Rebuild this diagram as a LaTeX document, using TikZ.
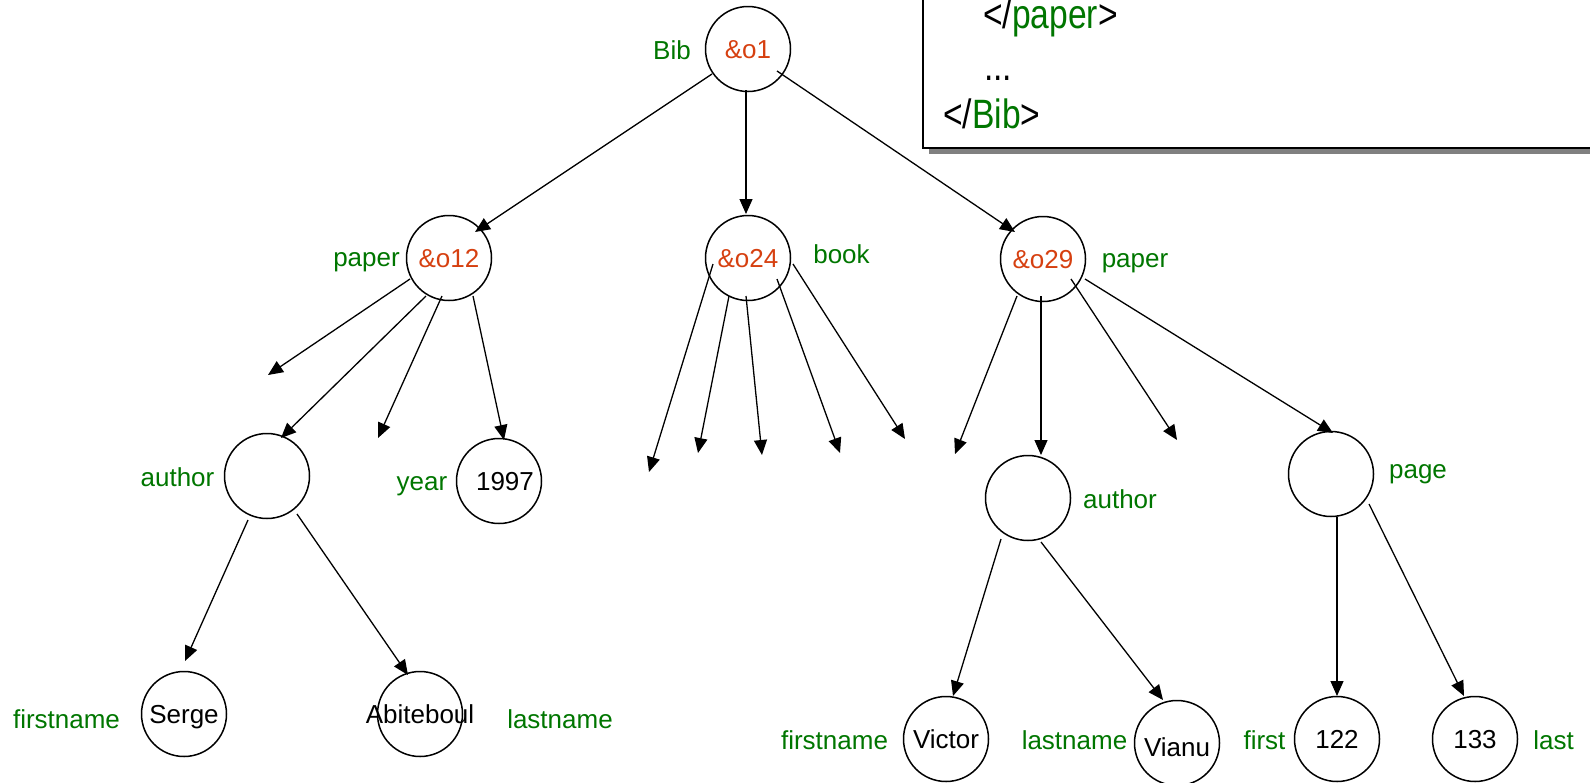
\documentclass[tikz,border=0pt]{standalone}
\usepackage{fontspec}
\setmainfont{Liberation Sans}
\newfontfamily\narrowfont[FakeStretch=0.82]{Liberation Sans}
\usetikzlibrary{arrows.meta,calc}
\definecolor{lblgreen}{RGB}{0,118,0}
\definecolor{oidred}{RGB}{214,64,16}
\definecolor{shadowgray}{RGB}{128,128,128}
\begin{document}
\begin{tikzpicture}[x=1pt,y=-1pt,
  every label/.style={inner sep=0pt,text height=19pt,text depth=0pt,font=\fontsize{26}{30}\selectfont},
  obj/.style={circle,draw=black,line width=1.5pt,minimum size=85pt,inner sep=0pt,
    text height=19pt,text depth=0pt,font=\fontsize{26}{30}\selectfont},
  oid/.style={obj,text=oidred},
  lbl/.style={inner sep=0pt,text height=19pt,text depth=0pt,text=lblgreen,
    font=\fontsize{26}{30}\selectfont},
  boxtext/.style={anchor=base west,inner sep=0pt,font=\narrowfont\fontsize{41}{48}\selectfont},
  edge/.style={line width=1.3pt,-{Triangle[length=15pt,width=13pt]}},
]
\useasboundingbox (0,0) rectangle (1590,782);
\clip (0,0) rectangle (1590,782);

% XML box (top right)
\fill[shadowgray] (929,-10) rectangle (1600,154);
\draw[fill=white,line width=2pt] (923,-10) rectangle (1600,148);
\node[boxtext] (tpaper) at (983,28) {</\textcolor{lblgreen}{paper}>};
\node[boxtext] (tdots) at (984,80) {...};
\node[boxtext] (tbib) at (943,128) {</\textcolor{lblgreen}{Bib}>};

% object nodes
\node[oid] (o1) at (748,49) {\&o1};
\node[oid] (o12) at (449,258) {\&o12};
\node[oid] (o24) at (748,258) {\&o24};
\node[oid] (o29) at (1043,259) {\&o29};
\node[obj] (a1) at (267,476) {};
\node[obj,label={[xshift=6pt]center:1997}] (y97) at (499,481) {};
\node[obj] (a2) at (1028,498) {};
\node[obj] (page) at (1331,474) {};
\node[obj] (serge) at (184,714) {Serge};
\node[obj,label={center:Abiteboul}] (abit) at (420,714) {};
\node[obj] (victor) at (946,739) {Victor};
\node[obj,label={[yshift=-4pt]center:Vianu}] (vianu) at (1177,743) {};
\node[obj] (n122) at (1337,739) {122};
\node[obj] (n133) at (1475,739) {133};

% labels
\node[lbl] (lbib) at (672,49.5) {Bib};
\node[lbl] (lpaper1) at (366.5,256.5) {paper};
\node[lbl] (lbook) at (841.5,253.5) {book};
\node[lbl] (lpaper2) at (1135,257.5) {paper};
\node[lbl] (lauthor1) at (177.5,477) {author};
\node[lbl] (lyear) at (422,481) {year};
\node[lbl] (lauthor2) at (1120,498.5) {author};
\node[lbl] (lpage) at (1418,468.5) {page};
\node[lbl] (lfirst1) at (66.5,718.5) {firstname};
\node[lbl] (llast1) at (560,718.5) {lastname};
\node[lbl] (lfirst2) at (834.5,740) {firstname};
\node[lbl] (llast2) at (1074.5,740) {lastname};
\node[lbl] (lfirst) at (1264.5,740) {first};
\node[lbl] (llast) at (1553.5,740) {last};

% free arrow ends
\coordinate (f1) at (268,375);
\coordinate (f2) at (378,438);
\coordinate (f3) at (649,472);
\coordinate (f4) at (698,453);
\coordinate (f5) at (762,455);
\coordinate (f6) at (840,453);
\coordinate (f7) at (905,439);
\coordinate (f8) at (955,454);
\coordinate (f9) at (1177,440);

% edges from o1
\draw[edge] ($(o1)+(-36,25)$) -- ($(o12)+(26,-26)$);
\draw[edge] ($(o1)+(-2,41)$) -- ($(o24)+(-2,-44)$);
\draw[edge] ($(o1)+(29,22)$) -- ($(o29)+(-28,-27)$);
% edges from o12
\draw[edge] ($(o12)+(-39,21)$) -- (f1);
\draw[edge] ($(o12)+(-23,38)$) -- ($(a1)+(14,-38)$);
\draw[edge] ($(o12)+(-7,38)$) -- (f2);
\draw[edge] ($(o12)+(24,38)$) -- ($(y97)+(5,-41)$);
% edges from o24
\draw[edge] ($(o24)+(-35,6)$) -- (f3);
\draw[edge] ($(o24)+(-19,38)$) -- (f4);
\draw[edge] ($(o24)+(-2,38)$) -- (f5);
\draw[edge] ($(o24)+(29,21)$) -- (f6);
\draw[edge] ($(o24)+(45,6)$) -- (f7);
% edges from o29
\draw[edge] ($(o29)+(-26,37)$) -- (f8);
\draw[edge] ($(o29)+(-2,37)$) -- ($(a2)+(13,-43)$);
\draw[edge] ($(o29)+(28,20)$) -- (f9);
\draw[edge] ($(o29)+(42,20)$) -- ($(page)+(2,-41)$);
% edges from author nodes and page
\draw[edge] ($(a1)+(-19,44)$) -- ($(serge)+(1,-53)$);
\draw[edge] ($(a1)+(30,38)$) -- ($(abit)+(-12,-39)$);
\draw[edge] ($(a2)+(-27,41)$) -- ($(victor)+(7,-43)$);
\draw[edge] ($(a2)+(13,44)$) -- ($(vianu)+(-14,-43)$);
\draw[edge] ($(page)+(6,43)$) -- ($(n122)+(0,-43)$);
\draw[edge] ($(page)+(38,30)$) -- ($(n133)+(-11,-43)$);
\end{tikzpicture}
\end{document}
